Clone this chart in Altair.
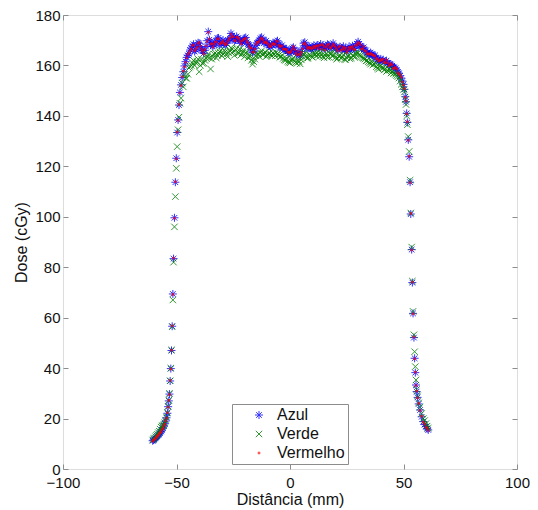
import altair as alt
import pandas as pd

# ---------------- data ----------------
x_left = [-60.5, -60.1, -59.7, -59.2, -58.8, -58.4, -58.0, -57.6, -57.2, -56.8,
          -56.4, -56.0, -55.6, -55.2, -54.8, -54.4, -54.0, -53.7, -53.4, -53.1,
          -52.8, -52.5, -52.2, -51.9, -51.6, -51.3, -50.9, -50.5, -50.1, -49.7,
          -49.3, -48.9, -48.5]
azul_left = [11.2, 11.5, 11.8, 12.2, 12.6, 13.0, 13.5, 13.9, 14.3, 14.9,
             15.5, 16.2, 17.0, 17.9, 19.0, 20.3, 22.1, 24.7, 27.0, 29.7,
             34.9, 39.8, 47.0, 56.6, 69.4, 83.4, 99.6, 113.7, 123.2, 133.4,
             138.4, 144.3, 149.3]
verde_left = [11.5, 11.9, 12.3, 12.8, 13.3, 13.8, 14.4, 15.0, 15.8, 16.6,
              17.0, 17.3, 17.6, 18.4, 19.4, 20.6, 22.4, 24.9, 27.3, 30.0,
              35.0, 40.0, 47.2, 56.4, 67.0, 82.0, 96.0, 108.0, 119.2, 127.8,
              134.5, 139.5, 145.0]
vermelho_left = [11.0, 11.4, 11.9, 12.1, 12.7, 13.1, 13.4, 14.0, 14.4, 14.8,
                 15.6, 16.1, 17.1, 17.8, 19.1, 20.2, 22.3, 24.5, 27.2, 29.5,
                 35.1, 39.6, 47.1, 56.8, 69.2, 83.6, 99.4, 113.9, 123.0, 133.6,
                 138.2, 144.5, 149.1]

x_mid = [-48, -47, -46, -45, -44, -43, -42, -41, -40, -39,
         -38, -37, -36, -35, -34, -33, -32, -31, -30, -29,
         -28, -27, -26, -25, -24, -23, -22, -21, -20, -19,
         -18, -17, -16, -15, -14, -13, -12, -11, -10, -9,
         -8, -7, -6, -5, -4, -3, -2, -1, 0, 1,
         2, 3, 4, 5, 6, 7, 8, 9, 10, 11,
         12, 13, 14, 15, 16, 17, 18, 19, 20, 21,
         22, 23, 24, 25, 26, 27, 28, 29, 30, 31,
         32, 33, 34, 35, 36, 37, 38, 39, 40, 41,
         42, 43, 44, 45, 46, 47, 48, 49, 50]
azul_mid = [152.3, 157.5, 161.5, 164.0, 166.1, 167.7, 165.5, 167.5, 168.8, 166.1,
            164.8, 167.5, 173.4, 168.1, 167.5, 169.0, 170.8, 168.1, 169.4, 168.5,
            168.8, 170.0, 172.7, 171.0, 170.1, 170.8, 169.8, 169.4, 170.8, 169.2,
            168.1, 166.5, 165.5, 168.0, 169.4, 170.8, 169.9, 169.4, 168.5, 167.8,
            168.1, 168.6, 169.4, 168.3, 167.5, 166.8, 166.1, 165.6, 164.8, 166.8,
            166.0, 164.5, 164.2, 165.5, 168.8, 167.8, 166.9, 166.8, 167.3, 166.8,
            168.1, 167.6, 166.8, 167.2, 167.6, 168.1, 167.2, 168.8, 167.0, 166.1,
            167.4, 166.8, 166.0, 165.5, 167.5, 166.9, 166.8, 167.6, 169.4, 167.8,
            166.8, 165.5, 165.0, 164.2, 164.6, 163.5, 162.9, 161.6, 162.6, 162.2,
            161.4, 160.8, 160.6, 159.9, 159.3, 158.2, 156.9, 155.0, 152.5]
verde_mid = [147.0, 151.5, 155.0, 156.5, 159.5, 161.0, 160.0, 161.6, 157.5, 162.5,
             161.0, 163.0, 164.5, 158.6, 163.5, 165.0, 164.0, 165.5, 163.8, 166.0,
             164.5, 165.0, 167.0, 165.3, 166.2, 164.8, 166.5, 165.0, 163.5, 165.5,
             164.0, 162.0, 161.5, 163.8, 164.5, 165.0, 164.2, 165.3, 164.0, 165.0,
             163.8, 164.5, 165.2, 164.0, 163.5, 162.8, 162.0, 161.6, 161.0, 162.5,
             161.8, 160.8, 161.5, 162.2, 164.5, 163.5, 163.0, 164.0, 163.2, 164.5,
             165.0, 163.6, 164.2, 163.0, 164.8, 163.5, 164.6, 165.5, 163.2, 162.8,
             164.0, 163.2, 162.5, 163.0, 164.0, 163.0, 163.8, 164.5, 165.0, 163.8,
             163.0, 162.5, 162.0, 161.0, 161.5, 160.5, 159.5, 158.5, 160.0, 159.0,
             158.6, 158.0, 158.2, 157.5, 157.0, 156.0, 155.0, 152.5, 150.5]
vermelho_mid = [152.0, 157.8, 161.2, 164.3, 165.8, 167.9, 165.8, 167.2, 169.1, 166.4,
                164.5, 167.8, 173.1, 168.4, 167.2, 169.3, 170.5, 168.4, 169.1, 168.8,
                168.5, 170.3, 172.4, 171.3, 169.8, 171.1, 169.5, 169.7, 170.5, 169.5,
                167.8, 166.8, 165.2, 168.3, 169.1, 170.5, 170.2, 169.1, 168.8, 167.5,
                168.4, 168.3, 169.7, 168.0, 167.8, 166.5, 166.4, 165.3, 165.1, 166.5,
                166.3, 164.2, 164.5, 165.2, 168.5, 168.1, 166.6, 167.1, 167.0, 167.1,
                167.8, 167.9, 166.5, 167.5, 167.3, 168.4, 166.9, 168.5, 167.3, 165.8,
                167.7, 166.5, 166.3, 165.2, 167.2, 167.2, 166.5, 167.9, 169.1, 168.1,
                166.5, 165.8, 164.7, 164.5, 164.3, 163.8, 162.6, 161.9, 162.3, 162.5,
                161.1, 161.1, 160.3, 160.2, 159.0, 158.5, 156.6, 155.3, 152.2]

x_half = [-47.5, -46.5, -45.5, -44.5, -43.5, -42.5, -41.5, -40.5, -39.5, -38.5,
          -37.5, -36.5, -35.5, -34.5, -33.5, -32.5, -31.5, -30.5, -29.5, -28.5,
          -27.5, -26.5, -25.5, -24.5, -23.5, -22.5, -21.5, -20.5, -19.5, -18.5,
          -17.5, -16.5, -15.5, -14.5, -13.5, -12.5, -11.5, -10.5, -9.5, -8.5,
          -7.5, -6.5, -5.5, -4.5, -3.5, -2.5, -1.5, -0.5, 0.5, 1.5,
          2.5, 3.5, 4.5, 5.5, 6.5, 7.5, 8.5, 9.5, 10.5, 11.5,
          12.5, 13.5, 14.5, 15.5, 16.5, 17.5, 18.5, 19.5, 20.5, 21.5,
          22.5, 23.5, 24.5, 25.5, 26.5, 27.5, 28.5, 29.5, 30.5, 31.5,
          32.5, 33.5, 34.5, 35.5, 36.5, 37.5, 38.5, 39.5, 40.5, 41.5,
          42.5, 43.5, 44.5, 45.5, 46.5, 47.5, 48.5, 49.5]
azul_half = [155.2, 159.8, 163.2, 164.6, 166.9, 168.4, 166.2, 169.0, 167.3, 165.9,
             166.0, 169.8, 170.2, 169.0, 168.0, 169.6, 170.9, 168.6, 170.1, 167.9,
             169.8, 170.6, 171.8, 169.6, 171.5, 170.2, 168.8, 170.0, 171.1, 168.5,
             167.3, 165.1, 166.8, 168.9, 169.9, 171.2, 168.8, 169.8, 168.0, 167.2,
             169.0, 168.2, 169.8, 167.0, 168.0, 166.2, 166.6, 164.9, 165.9, 167.2,
             165.2, 165.4, 163.8, 166.9, 169.2, 166.8, 167.5, 166.3, 168.0, 167.4,
             167.0, 168.5, 167.9, 166.4, 168.4, 166.8, 168.0, 167.6, 166.8, 167.0,
             166.3, 167.6, 166.7, 166.4, 166.2, 167.8, 166.0, 168.6, 168.5, 166.9,
             167.2, 166.0, 164.2, 165.1, 163.9, 164.0, 162.4, 162.0, 161.8, 161.5,
             161.9, 160.2, 160.4, 159.1, 158.9, 157.4, 155.9, 153.8]
verde_half = [153.0, 156.5, 154.9, 159.0, 160.0, 162.0, 161.0, 162.5, 160.0, 160.8,
              162.0, 163.5, 163.0, 162.5, 164.5, 163.0, 164.8, 166.0, 164.5, 165.5,
              163.5, 165.8, 166.5, 164.0, 166.8, 165.0, 164.2, 166.0, 164.8, 163.0,
              163.5, 160.5, 162.5, 164.8, 163.5, 165.8, 164.5, 163.5, 164.6, 164.2,
              165.0, 163.8, 164.6, 163.2, 164.0, 162.2, 162.8, 161.2, 162.0, 163.0,
              161.2, 162.0, 160.6, 163.5, 165.0, 162.8, 164.2, 163.5, 164.8, 163.8,
              164.2, 165.2, 163.5, 164.0, 163.2, 164.8, 163.8, 164.2, 162.5, 163.6,
              163.0, 164.2, 162.2, 163.8, 162.6, 164.0, 163.2, 165.5, 164.2, 163.4,
              162.8, 161.8, 161.5, 160.5, 160.2, 160.8, 159.0, 159.6, 159.2, 158.2,
              157.6, 158.6, 157.0, 156.8, 156.5, 155.6, 153.8, 151.5]
vermelho_half = [155.5, 159.5, 163.0, 164.9, 166.6, 168.1, 166.5, 168.7, 167.6, 165.6,
                 166.3, 169.5, 170.5, 168.7, 168.3, 169.3, 170.6, 168.9, 169.8, 168.2,
                 169.5, 170.9, 171.5, 169.9, 171.2, 170.5, 168.5, 170.3, 170.8, 168.8,
                 167.0, 165.4, 166.5, 169.2, 169.6, 170.9, 169.1, 169.5, 168.3, 167.5,
                 168.7, 168.5, 169.5, 167.3, 167.7, 166.5, 166.3, 165.2, 165.6, 167.5,
                 164.9, 165.7, 164.1, 166.6, 168.9, 167.1, 167.2, 166.6, 167.7, 167.7,
                 166.7, 168.2, 168.2, 166.1, 168.1, 167.1, 167.7, 167.9, 166.5, 167.3,
                 166.0, 167.3, 167.0, 166.1, 166.5, 167.5, 166.3, 168.3, 168.8, 166.6,
                 167.5, 165.7, 164.5, 164.8, 164.2, 163.7, 162.7, 161.7, 162.1, 161.2,
                 162.2, 159.9, 160.7, 158.8, 159.2, 157.1, 156.2, 153.5]

x_right = [50.4, 50.8, 51.1, 51.4, 51.7, 52.1, 52.5, 52.9, 53.2, 53.6,
           53.9, 54.2, 54.6, 54.9, 55.2, 55.5, 55.8, 56.2, 56.7, 57.3,
           58.0, 58.7, 59.3, 59.9, 60.4, 60.9]
azul_right = [150.5, 147.6, 145.6, 141.0, 137.4, 130.5, 123.8, 113.7, 101.1, 87.0,
              73.9, 61.7, 52.1, 43.9, 38.2, 33.3, 30.7, 28.4, 25.8, 23.4,
              20.7, 18.8, 17.6, 16.8, 16.0, 15.5]
verde_right = [149.5, 146.5, 144.5, 140.0, 136.5, 131.8, 125.9, 114.5, 101.5, 88.0,
               74.5, 62.5, 53.2, 46.5, 40.6, 35.3, 31.5, 29.0, 26.2, 24.5,
               22.0, 20.0, 19.2, 18.0, 17.0, 16.2]
vermelho_right = [150.8, 147.4, 145.9, 140.8, 137.7, 130.3, 124.0, 113.5, 101.3, 86.8,
                  74.1, 61.5, 52.3, 43.7, 38.4, 33.1, 30.9, 28.2, 26.0, 23.2,
                  20.9, 18.6, 17.8, 16.6, 16.2, 15.3]

series_names = ["Azul", "Verde", "Vermelho"]
series_colors = ["#0000ff", "#008000", "#ff0000"]
x_ticks = [-100, -50, 0, 50, 100]
y_ticks = [0, 20, 40, 60, 80, 100, 120, 140, 160, 180]

xs = x_left + x_mid + x_half + x_right
series_values = {
    "Azul": azul_left + azul_mid + azul_half + azul_right,
    "Verde": verde_left + verde_mid + verde_half + verde_right,
    "Vermelho": vermelho_left + vermelho_mid + vermelho_half + vermelho_right,
}
rows = []
for name in series_names:
    for xv, yv in zip(xs, series_values[name]):
        rows.append({"x": xv, "y": yv, "serie": name})
df = pd.DataFrame(rows)

# ---------------- styling ----------------
FONT = "Liberation Sans"
GRAY = "#8c8c8c"
TXT = "#111111"
W = 454
H = 454

asterisk = "M-1,0L1,0M0,-1L0,1M-0.7,-0.7L0.7,0.7M-0.7,0.7L0.7,-0.7"
xmark = "M-0.8,-0.8L0.8,0.8M-0.8,0.8L0.8,-0.8"
dot = "M-0.2,-0.2L0.2,-0.2L0.2,0.2L-0.2,0.2Z"

xscale = alt.Scale(domain=[-100, 100], nice=False, zero=False)
yscale = alt.Scale(domain=[0, 180], nice=False, zero=False)

leg = alt.Legend(orient="none", legendX=169, legendY=389, title=None,
                 padding=3, rowPadding=3, symbolOffset=16, labelOffset=10,
                 labelFontSize=16, labelFont=FONT, labelColor=TXT,
                 strokeColor=GRAY, fillColor="#ffffff", symbolSize=64,
                 symbolStrokeWidth=1, cornerRadius=0)

main = alt.Chart(df).mark_point(filled=False, strokeWidth=1, opacity=0.8, size=64).encode(
    x=alt.X("x:Q", scale=xscale,
            axis=alt.Axis(values=x_ticks, title="Distância (mm)", ticks=False, tickSize=0,
                          domain=False, grid=False, labelPadding=6, labelFontSize=15,
                          labelFont=FONT, labelColor=TXT, titleFont=FONT, titleFontSize=16,
                          titleFontWeight="normal", titleColor=TXT, titlePadding=1,
                          labelFlush=False)),
    y=alt.Y("y:Q", scale=yscale,
            axis=alt.Axis(values=y_ticks, title="Dose (cGy)", ticks=False, tickSize=0,
                          domain=False, grid=False, labelPadding=3, labelFontSize=15,
                          labelFont=FONT, labelColor=TXT, titleFont=FONT, titleFontSize=16,
                          titleFontWeight="normal", titleColor=TXT, titlePadding=5,
                          labelFlush=False)),
    color=alt.Color("serie:N", scale=alt.Scale(domain=series_names, range=series_colors), legend=leg),
    shape=alt.Shape("serie:N", scale=alt.Scale(domain=series_names, range=[asterisk, xmark, dot]), legend=leg),
)

# inward ticks: bottom & left edges
ticks_a = alt.Chart(df).mark_point(opacity=0).encode(
    x=alt.X("x:Q", scale=xscale,
            axis=alt.Axis(orient="top", offset=-H, values=x_ticks, labels=False, domain=False,
                          grid=False, tickSize=5, tickColor=GRAY, title=None)),
    y=alt.Y("y:Q", scale=yscale,
            axis=alt.Axis(orient="right", offset=-W, values=y_ticks, labels=False, domain=False,
                          grid=False, tickSize=5, tickColor=GRAY, title=None)),
)
# inward ticks: top & right edges
ticks_b = alt.Chart(df).mark_point(opacity=0).encode(
    x=alt.X("x:Q", scale=xscale,
            axis=alt.Axis(orient="bottom", offset=-H, values=x_ticks, labels=False, domain=False,
                          grid=False, tickSize=5, tickColor=GRAY, title=None)),
    y=alt.Y("y:Q", scale=yscale,
            axis=alt.Axis(orient="left", offset=-W, values=y_ticks, labels=False, domain=False,
                          grid=False, tickSize=5, tickColor=GRAY, title=None)),
)

chart = alt.layer(main, ticks_a, ticks_b).resolve_axis(
    x="independent", y="independent"
).properties(
    width=W, height=H,
    padding={"left": 63, "top": 15, "right": 21, "bottom": 41},
    autosize="none",
).configure_view(stroke=GRAY, strokeWidth=1).configure(background="#ffffff")

chart.save("out.html", embed_options={"renderer": "svg", "actions": False})
